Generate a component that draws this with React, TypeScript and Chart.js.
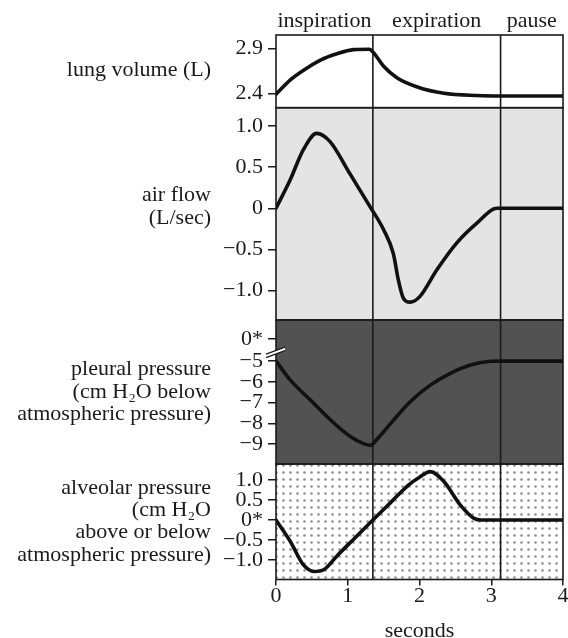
import { useEffect, useRef } from 'react';
import { Chart, registerables } from 'chart.js';

Chart.register(...registerables);

const FONT = '"Liberation Serif", "Times New Roman", Times, serif';

// ---- phases (seconds) ----
const phaseNames = ['inspiration', 'expiration', 'pause'];
const phaseBounds = [0, 1.35, 3.13, 4];
const secondsTicks = [0, 1, 2, 3, 4];

// ---- lung volume (L) ----
const volumeTime = [0, 0.2, 0.39, 0.62, 0.85, 1.08, 1.3, 1.36, 1.5, 1.69, 1.97, 2.34, 2.8, 3.14, 4];
const volumeL = [2.39, 2.55, 2.66, 2.77, 2.84, 2.885, 2.89, 2.85, 2.7, 2.57, 2.47, 2.4, 2.375, 2.37, 2.37];
const volumeTicks = [2.4, 2.9];

// ---- air flow (L/sec) ----
const flowTime = [0, 0.195, 0.38, 0.567, 0.753, 1.03, 1.31, 1.5, 1.635, 1.705, 1.774, 1.868, 2.007, 2.24, 2.52, 2.8, 3.08, 4];
const flowLps = [0, 0.34, 0.71, 0.91, 0.81, 0.42, 0.02, -0.26, -0.55, -0.87, -1.09, -1.14, -1.07, -0.75, -0.42, -0.18, 0, 0];
const flowTicks = [1, 0.5, 0, -0.5, -1];

// ---- pleural pressure (cm H2O below atmospheric) ----
const pleuralTime = [0, 0.2, 0.48, 0.76, 1.04, 1.22, 1.32, 1.42, 1.6, 1.87, 2.15, 2.43, 2.71, 2.99, 3.15, 4];
const pleuralCmH2O = [-5, -5.92, -6.88, -7.84, -8.65, -8.98, -9.06, -8.72, -8.0, -6.96, -6.16, -5.59, -5.19, -5.01, -5, -5];
const pleuralTicks = [-5, -6, -7, -8, -9];
const pleuralBrokenZero = -3.94; // broken axis: "0*" sits here

// ---- alveolar pressure (cm H2O) ----
const alveolarTime = [0, 0.2, 0.38, 0.53, 0.67, 0.85, 1.1, 1.35, 1.6, 1.85, 2.0, 2.15, 2.34, 2.57, 2.76, 2.86, 4];
const alveolarCmH2O = [0, -0.54, -1.12, -1.29, -1.24, -0.9, -0.45, 0, 0.44, 0.88, 1.07, 1.21, 0.96, 0.37, 0.04, 0, 0];
const alveolarTicks = [1, 0.5, 0, -0.5, -1];

// ---- left-hand panel labels ----
const volumeLabel = ['lung volume (L)'];
const flowLabel = ['air flow', '(L/sec)'];
const pleuralLabel = ['pleural pressure', '(cm H\u2082O below', 'atmospheric pressure)'];
const alveolarLabel = ['alveolar pressure', '(cm H\u2082O', 'above or below', 'atmospheric pressure)'];

const toPts = (xs: number[], ys: number[]) => xs.map((x, i) => ({ x, y: ys[i] }));
const fmtDec = (v: number) => (v === 0 ? '0' : (v < 0 ? '\u2212' : '') + Math.abs(v).toFixed(1));
const fmtInt = (v: number) => (v < 0 ? '\u2212' : '') + Math.abs(v).toFixed(0);

const INK = '#1a1a1a';

const panelStyles = [
  { id: 'yVol', fill: '#ffffff', label: volumeLabel, dy: -1 },
  { id: 'yFlow', fill: '#e4e4e4', label: flowLabel, dy: -7 },
  { id: 'yPleu', fill: '#525252', label: pleuralLabel, dy: 0 },
  { id: 'yAlv', fill: 'dots', label: alveolarLabel, dy: 0 },
];

function dotPattern(ctx: CanvasRenderingContext2D) {
  const c = document.createElement('canvas');
  c.width = 7;
  c.height = 7;
  const g = c.getContext('2d')!;
  g.fillStyle = '#ffffff';
  g.fillRect(0, 0, 7, 7);
  g.fillStyle = '#8e8e8e';
  g.beginPath();
  g.arc(3.5, 3.5, 1.3, 0, Math.PI * 2);
  g.fill();
  return ctx.createPattern(c, 'repeat');
}

const panelsPlugin = {
  id: 'panels',
  beforeDatasetsDraw(chart: any) {
    const { ctx, chartArea: ca, scales } = chart;
    ctx.save();
    for (const p of panelStyles) {
      const s = scales[p.id];
      ctx.fillStyle = p.fill === 'dots' ? dotPattern(ctx) : p.fill;
      ctx.fillRect(ca.left, s.top, ca.right - ca.left, s.bottom - s.top);
    }
    ctx.strokeStyle = INK;
    ctx.lineWidth = 1.6;
    for (const b of phaseBounds.slice(1, -1)) {
      const px = scales.x.getPixelForValue(b);
      ctx.beginPath();
      ctx.moveTo(px, ca.top);
      ctx.lineTo(px, ca.bottom);
      ctx.stroke();
    }
    ctx.restore();
  },
  afterDraw(chart: any) {
    const { ctx, chartArea: ca, scales } = chart;
    ctx.save();
    // panel borders
    ctx.strokeStyle = INK;
    ctx.lineWidth = 1.6;
    for (const p of panelStyles) {
      const s = scales[p.id];
      ctx.strokeRect(ca.left, s.top, ca.right - ca.left, s.bottom - s.top);
    }
    // left labels
    ctx.fillStyle = INK;
    ctx.font = `22px ${FONT}`;
    ctx.textAlign = 'right';
    ctx.textBaseline = 'alphabetic';
    const lh = 22.4;
    for (const p of panelStyles) {
      const s = scales[p.id];
      const mid = (s.top + s.bottom) / 2 + p.dy;
      const n = p.label.length;
      p.label.forEach((t: string, i: number) => {
        ctx.fillText(t, 211, mid + 5.5 + (i - (n - 1) / 2) * lh);
      });
    }
    // phase labels on top
    ctx.textAlign = 'center';
    for (let i = 0; i < phaseNames.length; i++) {
      const a = scales.x.getPixelForValue(phaseBounds[i]);
      const b = scales.x.getPixelForValue(phaseBounds[i + 1]);
      ctx.fillText(phaseNames[i], (a + b) / 2, ca.top - 8.5);
    }
    // axis-break mark on pleural axis
    const ps = scales.yPleu;
    const cy = ps.getPixelForValue((pleuralBrokenZero + pleuralTicks[0]) / 2 - 0.1);
    const L = ca.left;
    ctx.beginPath();
    ctx.moveTo(L - 10, cy + 2);
    ctx.lineTo(L + 9, cy - 5);
    ctx.lineTo(L + 9, cy - 1.5);
    ctx.lineTo(L - 10, cy + 5.5);
    ctx.closePath();
    ctx.fillStyle = '#ffffff';
    ctx.fill();
    ctx.lineWidth = 1.3;
    ctx.strokeStyle = INK;
    ctx.beginPath();
    ctx.moveTo(L - 10, cy + 2);
    ctx.lineTo(L + 9, cy - 5);
    ctx.moveTo(L - 10, cy + 5.5);
    ctx.lineTo(L + 9, cy - 1.5);
    ctx.stroke();
    ctx.restore();
  },
};

function yScale(
  ticks: number[],
  min: number,
  max: number,
  weight: number,
  stackWeight: number,
  fmt: (v: number) => string,
) {
  return {
    type: 'linear',
    position: 'left',
    stack: 'panels',
    stackWeight,
    weight,
    min,
    max,
    offset: false,
    border: { display: false },
    grid: { drawOnChartArea: false, drawTicks: true, tickLength: 8, color: INK, lineWidth: 1.5 },
    ticks: {
      font: { family: FONT, size: 22 },
      color: INK,
      padding: 5,
      autoSkip: false,
      callback: (v: number) => fmt(v),
    },
    afterBuildTicks: (s: any) => {
      s.ticks = ticks.map((v) => ({ value: v }));
    },
    afterFit: (s: any) => {
      s.width = 276;
    },
  };
}

export default function App() {
  const ref = useRef<HTMLCanvasElement | null>(null);

  useEffect(() => {
    if (!ref.current) return;
    const line = {
      borderColor: '#111111',
      borderWidth: 3.6,
      pointRadius: 0,
      fill: false,
      cubicInterpolationMode: 'monotone',
      borderCapStyle: 'round',
      borderJoinStyle: 'round',
    };
    const chart = new Chart(ref.current, {
      type: 'line',
      data: {
        datasets: [
          { ...line, data: toPts(volumeTime, volumeL), yAxisID: 'yVol' },
          { ...line, data: toPts(flowTime, flowLps), yAxisID: 'yFlow' },
          { ...line, data: toPts(pleuralTime, pleuralCmH2O), yAxisID: 'yPleu' },
          { ...line, data: toPts(alveolarTime, alveolarCmH2O), yAxisID: 'yAlv' },
        ] as any,
      },
      options: {
        animation: false,
        responsive: false,
        maintainAspectRatio: false,
        layout: { padding: { top: 35, right: 5, left: 0, bottom: 0 } },
        plugins: { legend: { display: false }, tooltip: { enabled: false } },
        scales: {
          x: {
            type: 'linear',
            position: 'bottom',
            min: 0,
            max: 4,
            border: { display: false },
            grid: { drawOnChartArea: false, drawTicks: true, tickLength: 6, color: INK, lineWidth: 1.5 },
            ticks: {
              font: { family: FONT, size: 22 },
              color: INK,
              padding: -2,
              callback: (v: number) => String(v),
            },
            afterBuildTicks: (s: any) => {
              s.ticks = secondsTicks.map((v) => ({ value: v }));
            },
            title: {
              display: true,
              text: 'seconds',
              color: INK,
              font: { family: FONT, size: 22, lineHeight: 1 },
              padding: { top: 0, bottom: -4 },
            },
            afterFit: (s: any) => {
              s.height = 58.5;
            },
          },
          yVol: yScale(volumeTicks, 2.24, 3.048, 4, 72.7, fmtDec),
          yFlow: yScale(flowTicks, -1.357, 1.222, 3, 212.3, fmtDec),
          yPleu: yScale(
            [pleuralBrokenZero, ...pleuralTicks],
            -9.96,
            -3.02,
            2,
            144,
            (v: number) => (v === pleuralBrokenZero ? '0*' : fmtInt(v)),
          ),
          yAlv: yScale(alveolarTicks, -1.49, 1.4, 1, 115.5, (v: number) => (v === 0 ? '0*' : fmtDec(v))),
        } as any,
      },
      plugins: [panelsPlugin as any],
    });
    return () => chart.destroy();
  }, []);

  return (
    <div style={{ position: 'absolute', left: 0, top: 0, width: 568, height: 638, background: '#ffffff' }}>
      <canvas ref={ref} width={568} height={638} style={{ display: 'block', width: 568, height: 638 }} />
    </div>
  );
}
